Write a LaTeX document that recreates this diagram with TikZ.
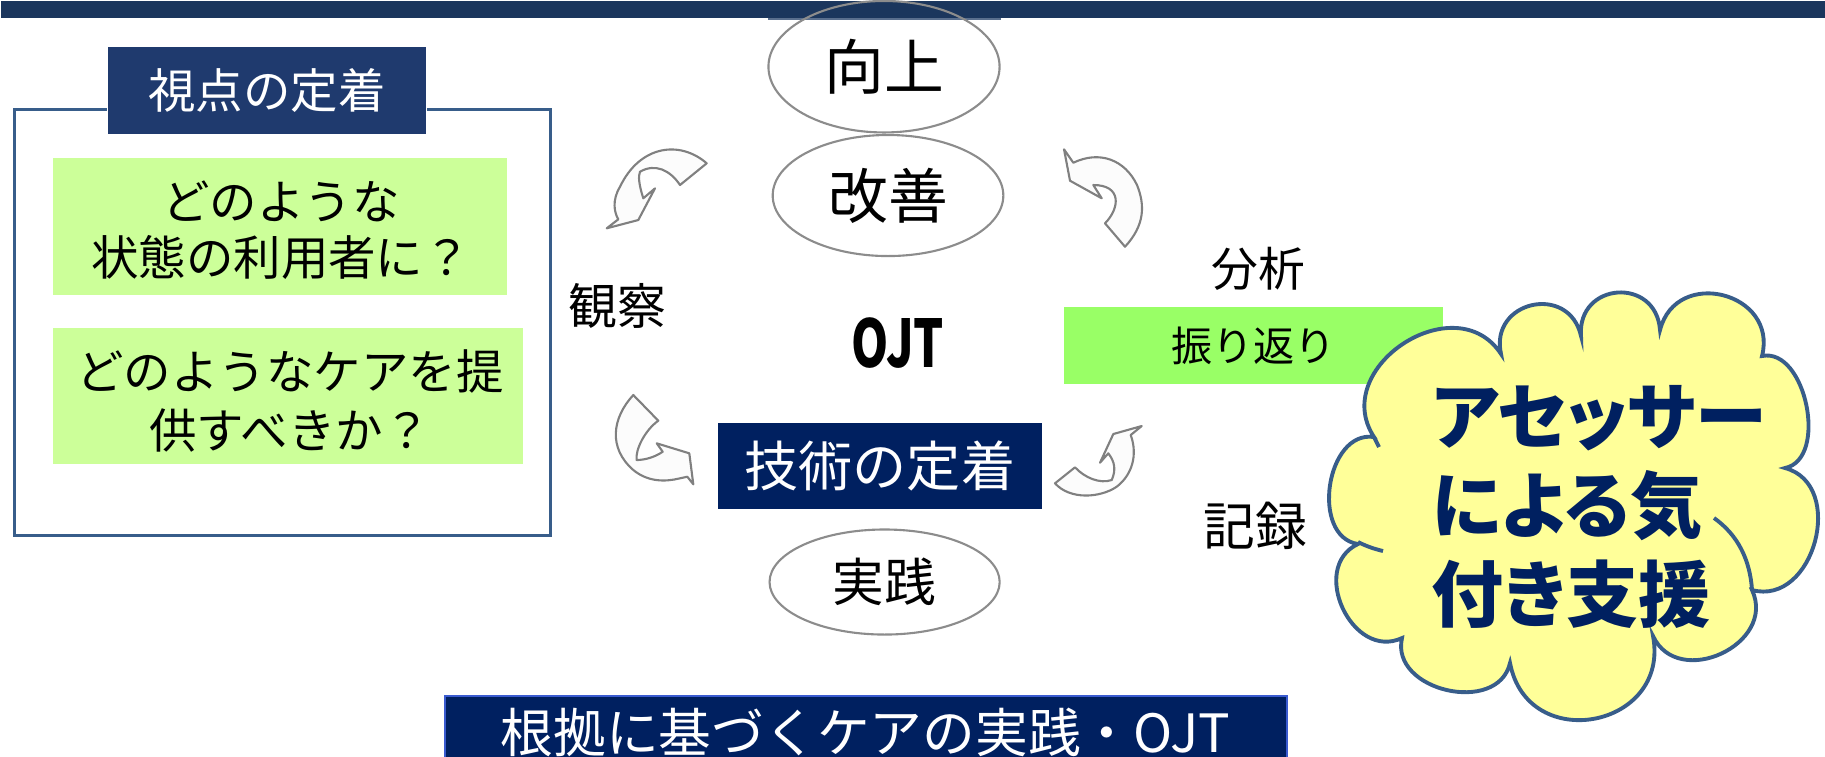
\documentclass[tikz,border=0pt]{standalone}
\usepackage{fontspec}
\setmainfont{Noto Sans CJK JP}
\newfontfamily\cloudfont[RawFeature=+palt]{Noto Sans CJK JP}
\usetikzlibrary{shapes.geometric}
\definecolor{topnavy}{HTML}{1B365D}
\definecolor{boxnavy}{HTML}{1F3A6E}
\definecolor{darknavy}{HTML}{002060}
\definecolor{frameblue}{HTML}{385D8A}
\definecolor{lightgreen}{HTML}{CCFF99}
\definecolor{brightgreen}{HTML}{99FF66}
\definecolor{cloudyellow}{HTML}{FFFF99}
\definecolor{ellgray}{HTML}{8C8C8C}
\definecolor{arrowgray}{HTML}{808080}
\definecolor{arrowfill}{HTML}{FCFCFC}
\definecolor{stripblue}{HTML}{5A6F8E}
\definecolor{bannerborder}{HTML}{3A5BD0}
\newcommand\fsz[2]{\fontsize{#1}{#2}\selectfont}
\tikzset{
  ell/.style={ellipse, draw=ellgray, line width=0.6pt, inner sep=0pt},
  navybox/.style={fill=darknavy, text=white, inner sep=0pt},
  greenbox/.style={fill=lightgreen, inner sep=0pt, align=center},
  label/.style={inner sep=0pt, text=black},
  curvearrow/.style={fill=arrowfill, draw=arrowgray, line width=0.6pt, line join=round},
  cloudline/.style={draw=frameblue, line width=1.1pt},
}
\begin{document}
\begin{tikzpicture}[x=0.01cm, y=-0.01cm]
\useasboundingbox (0,0) rectangle (1825,756);
% top banner
\node[fill=topnavy, minimum width=18.25cm, minimum height=0.175cm, anchor=north west, inner sep=0pt] (topbar) at (0,0) {};
\node[fill=stripblue, minimum width=2.33cm, minimum height=0.025cm, anchor=north west, inner sep=0pt] (strip) at (767,17) {};
% left frame
\node[draw=frameblue, line width=0.85pt, minimum width=5.355cm, minimum height=4.26cm, inner sep=0pt] (frame) at (282.75,322.4) {};
\node[fill=boxnavy, draw=white, line width=0.4pt, text=white, inner sep=0pt, minimum width=3.185cm, minimum height=0.89cm, font=\fsz{13.5pt}{16pt}] (shiten) at (267,90.5) {視点の定着};
\node[greenbox, minimum width=4.535cm, minimum height=1.363cm] (q1) at (279.9,226.6) {};
\node[label, align=center, font=\fsz{13.5pt}{15.9pt}] (q1t) at (281,230) {どのような\\状態の利用者に？};
\node[greenbox, minimum width=4.702cm, minimum height=1.354cm] (q2) at (288.2,395.9) {};
\node[label, align=center, font=\fsz{13.5pt}{16.7pt}] (q2t) at (290,401) {どのようなケアを提\\供すべきか？};
% ellipses
\node[ell, minimum width=2.31cm, minimum height=1.314cm, font=\fsz{17pt}{20pt}] (koujou) at (884,66.7) {向上};
\node[ell, minimum width=2.305cm, minimum height=1.21cm, font=\fsz{17pt}{20pt}] (kaizen) at (888,195.5) {改善};
\node[ell, minimum width=2.30cm, minimum height=1.05cm, font=\fsz{14.7pt}{17pt}] (jissen) at (884.6,582) {実践};
% centre texts
\node[label, font=\bfseries\fsz{18.7pt}{20pt}] (ojt) at (898,343) {\scalebox{0.72}[1]{OJT}};
\node[label, font=\fsz{13.9pt}{16pt}] (kansatsu) at (617,306) {観察};
\node[label, font=\fsz{13.3pt}{16pt}] (bunseki) at (1258,269) {分析};
\node[label, font=\fsz{14.7pt}{17pt}] (kiroku) at (1255,526) {記録};
\node[navybox, minimum width=3.237cm, minimum height=0.861cm, font=\fsz{15.4pt}{18pt}] (gijutsu) at (879.9,465.6) {技術の定着};
\node[fill=brightgreen, inner sep=0pt, minimum width=3.792cm, minimum height=0.77cm, font=\fsz{11.7pt}{14pt}] (furikaeri) at (1253.4,345.5) {振り返り};
% curved arrows
\draw[curvearrow] (706.7,163.3) .. controls (680,140) and (640,145) .. (620,186.7)
  .. controls (612,200) and (614,212) .. (618.3,219.3) -- (606.7,228.3) -- (638.3,220) -- (655,188.3)
  -- (643.3,198.3) .. controls (639,185) and (638,176) .. (640,171.7)
  .. controls (655,163) and (670,170) .. (680,185) -- cycle;
\draw[curvearrow] (1073.3,162.7) .. controls (1100,150) and (1125,160) .. (1137,185)
  .. controls (1145,205) and (1145,225) .. (1125,246.7) -- (1105,223.3)
  .. controls (1120,208) and (1122,185) .. (1093.3,185) -- (1101.7,198.3) -- (1070,180.7) -- (1064,149.3) -- cycle;
\draw[curvearrow] (633.3,395) .. controls (612,418) and (608,448) .. (633.3,470)
  .. controls (648,482) and (665,482) .. (680,478.3) -- (687.3,476.7) -- (693.3,484.3) -- (689.3,453.3)
  -- (656.7,443.3) -- (662.7,451.7) .. controls (655,457) and (645,460) .. (636.7,460)
  .. controls (635,450) and (645,430) .. (658.3,420.7) -- cycle;
\draw[curvearrow] (1075,467.3) .. controls (1085,478) and (1100,484) .. (1111.7,480)
  .. controls (1116,470) and (1115,462) .. (1108.3,453.3) -- (1100,462.7) -- (1113.3,434) -- (1141.7,426)
  -- (1130.7,435) .. controls (1138,455) and (1132,475) .. (1116.7,486.7)
  .. controls (1100,498) and (1070,500) .. (1055,483.3) -- cycle;
% cloud
\draw[cloudline, fill=cloudyellow] (1374,437)
  to[bend left=90, looseness=1.4] (1501,354)
  to[bend left=90, looseness=1.7] (1581,336)
  to[bend left=90, looseness=1.75] (1660,330)
  to[bend left=90, looseness=1.6] (1762,356)
  to[bend left=90, looseness=1.0] (1785,468)
  to[bend left=90, looseness=1.3] (1752,590)
  to[bend left=90, looseness=1.4] (1653,636)
  to[bend left=90, looseness=1.65] (1510,663)
  to[bend left=90, looseness=1.25] (1402,638)
  to[bend left=90, looseness=1.35] (1358,544)
  to[bend left=90, looseness=1.15] (1374,437) -- cycle;
\draw[cloudline] (1714,518) .. controls (1738,535) and (1750,560) .. (1752,590);
\draw[cloudline] (1358,542) .. controls (1368,547) and (1375,549) .. (1383,551);
\draw[cloudline] (1374,437) -- (1379,447);
\node[inner sep=0pt, anchor=west, align=left, text=darknavy, font=\cloudfont\bfseries\fsz{20.5pt}{25.3pt}] (cloudtext) at (1431,507)
  {アセッサー\\による気\\付き支援};
% bottom banner
\node[fill=darknavy, draw=bannerborder, line width=0.6pt, text=white, inner sep=0pt,
  minimum width=8.415cm, minimum height=0.72cm, anchor=north west, font=\fsz{15pt}{18pt}] (banner) at (443.5,695)
  {根拠に基づくケアの実践・OJT};
\end{tikzpicture}
\end{document}
